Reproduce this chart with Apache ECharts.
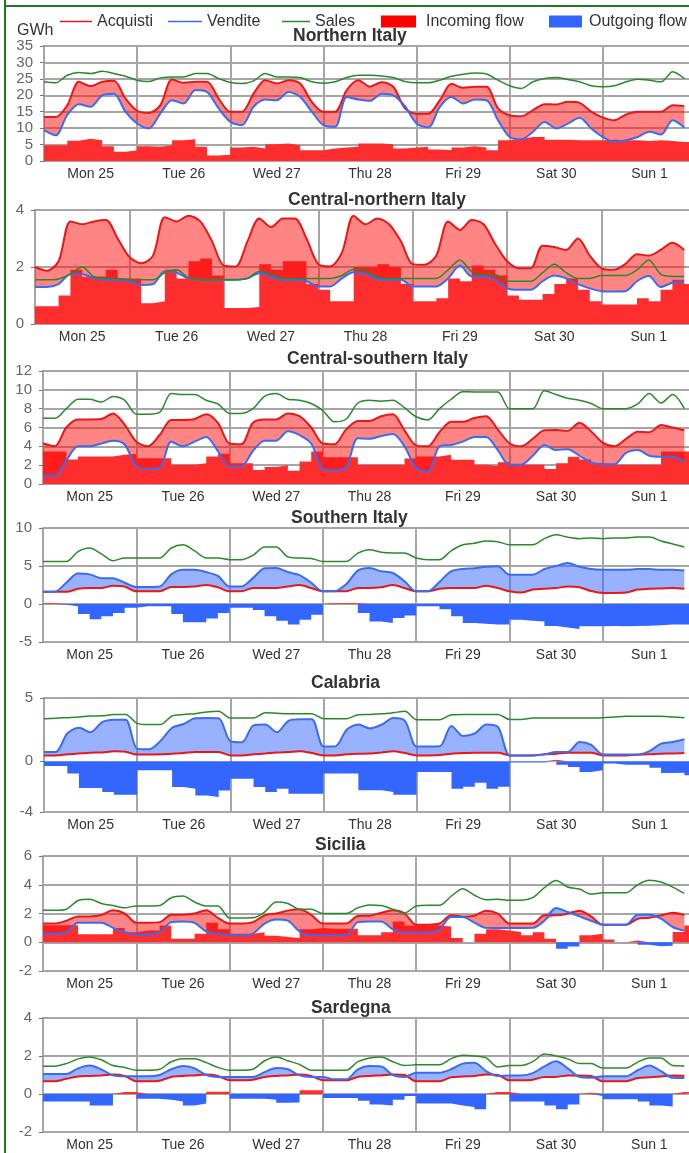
<!DOCTYPE html>
<html><head><meta charset="utf-8">
<script src="https://cdn.jsdelivr.net/npm/echarts@6/dist/echarts.min.js"></script>
<style>html,body{margin:0;padding:0;background:#fff}#c{width:689px;height:1153px}</style>
</head><body><div id="c"></div>
<script>
// ---------- data (3-hourly readings, GWh) ----------
const dayLabels = ['Mon 25','Tue 26','Wed 27','Thu 28','Fri 29','Sat 30','Sun 1'];
// hour-of-week categories (the last one, 168, closes the week)
const hours = [0,3,6,9,12,15,18,21, 24,27,30,33,36,39,42,45, 48,51,54,57,60,63,66,69, 72,75,78,81,84,87,90,93,
  96,99,102,105,108,111,114,117, 120,123,126,129,132,135,138,141, 144,147,150,153,156,159,162,165, 168];

const N_acq = [13.4,13.4,17,24.1,22.8,24.1,24.4,19, 15.3,14.6,17,24.8,23.8,24.1,24.1,19, 15,15,20.5,24.6,23.6,24.6,23.6,18, 15,15,21.6,24.6,22.6,24,22.6,16, 14.4,14.4,18.5,23.5,22.3,22.6,22.6,16, 13.9,13.6,15.5,17.3,17.2,18,17.7,15, 13.2,12.4,14.2,15,15,15,17,16.7];
const N_ven = [9.4,7.8,14,17.3,16.5,20,20.5,15, 11.4,9.9,14.5,18.5,17.5,21.6,21,16, 11.9,10.9,16.5,18.7,18.5,21,19.5,15, 10.9,10.4,19.5,18.7,18.3,20.5,20,16.7, 11.4,10.2,16.5,19.5,17.5,18.7,18.5,12.4, 7.3,6.6,8.9,11.9,9.9,11.4,13.2,9.9, 7.3,5.8,6.3,7.3,8.9,8.1,12.4,10.2];
const N_sal = [24.1,23.8,26.1,26.9,26.6,27.3,26.6,25.8, 24.6,24.2,25.3,25.6,25.6,26.6,26.6,25.1, 23.9,23.6,24.4,26.6,25.6,25.6,25.4,24.1, 23.7,24.1,25.4,26.1,26.1,25.9,25.4,24.2, 23.8,23.8,24.6,25.8,26.4,26.8,26.5,24.6, 22.9,22.1,24.1,25.1,25.4,24.8,24.1,22.9, 22.6,22.9,24.1,24.9,24.6,24.1,27.2,25.1];
const N_flow = [4.8,4.8,6.2,6.8,6.3,4.5,2.8,3.3, 4.5,4.3,4.8,6.3,6.6,4.3,1.7,1.9, 4.1,4.3,3.8,5.1,5.3,4.8,3.3,3.3, 3.8,4.1,4.3,5.3,5.3,5.1,3.8,4.1, 4.3,3.5,3.3,4.1,4.5,4.1,3.3,6.3, 6.8,7.3,7.3,6.5,6.5,6.3,6.3,6.3, 6.5,6.3,6.3,6.1,6.3,6.1,5.8,5.8];

const CN_acq = [2.0,1.87,2.2,3.6,3.5,3.6,3.65,3.0, 2.35,2.13,2.4,3.75,3.6,3.8,3.6,2.9, 2.05,2.02,2.9,3.7,3.4,3.7,3.7,3.0, 2.1,2.02,2.5,3.8,3.5,3.7,3.5,2.9, 2.1,2.08,2.4,3.6,3.3,3.65,3.5,2.8, 2.2,1.96,1.96,2.75,2.7,2.6,3.0,2.4, 1.95,1.9,2.1,2.45,2.4,2.6,2.85,2.6];
const CN_ven = [1.3,1.3,1.4,1.75,1.75,1.6,1.55,1.55, 1.5,1.37,1.4,1.85,1.8,1.6,1.55,1.55, 1.55,1.55,1.6,1.78,1.65,1.55,1.55,1.5, 1.32,1.32,1.6,1.82,1.75,1.58,1.55,1.55, 1.32,1.32,1.32,1.6,2.05,1.67,1.67,1.55, 1.25,1.2,1.2,1.5,1.7,1.6,1.4,1.25, 1.15,1.14,1.15,1.5,1.68,1.3,1.45,1.5];
const CN_sal = [1.55,1.55,1.58,1.75,2.0,1.65,1.6,1.6, 1.55,1.55,1.55,1.8,1.9,1.62,1.55,1.55, 1.55,1.55,1.6,1.84,1.75,1.6,1.6,1.6, 1.6,1.6,1.7,1.92,1.85,1.65,1.6,1.6, 1.6,1.6,1.6,1.9,2.25,1.84,1.73,1.73, 1.5,1.5,1.5,1.8,2.1,1.8,1.6,1.6, 1.7,1.7,1.7,1.9,2.25,1.75,1.67,1.67];
const CN_flow = [0.62,0.62,1.0,1.9,1.67,1.67,1.9,1.6, 1.6,0.73,0.8,1.9,1.6,2.2,2.3,1.7, 0.56,0.56,0.6,2.1,1.9,2.2,2.2,1.4, 1.2,0.8,0.8,2.0,2.0,2.1,2.0,1.4, 0.8,0.8,0.9,1.6,1.5,2.05,1.9,1.7, 1.0,0.85,0.85,1.05,1.4,1.6,1.2,0.8, 0.68,0.68,0.68,0.9,0.8,1.2,1.55,1.4];

const CS_acq = [4.33,4.0,6.0,6.86,6.86,6.9,7.5,6.3, 4.5,4.0,5.2,6.8,6.8,6.9,7.42,6.5, 4.3,4.22,6.5,6.86,6.86,7.5,7.2,6.0, 4.3,4.22,5.8,6.7,6.7,7.2,7.4,5.7, 4.1,4.0,5.5,6.6,6.6,7.0,7.2,5.8, 4.33,4.0,4.8,5.7,5.73,5.65,6.5,5.6, 4.4,4.0,4.8,5.56,5.5,6.26,6.0,5.7];
const CS_ven = [0.88,0.88,2.5,4.0,4.0,4.3,4.6,4.2, 1.9,1.62,1.7,4.5,4.0,4.5,5.0,3.5, 1.86,1.86,3.5,4.6,4.6,5.6,5.2,4.3, 1.6,1.44,1.8,4.86,4.8,5.1,5.3,4.0, 1.7,1.3,4.0,4.15,4.5,5.0,5.0,3.6, 2.04,2.04,3.0,4.15,3.6,3.7,3.0,2.3, 2.1,2.1,3.3,3.6,3.0,2.9,2.9,2.3];
const CS_sal = [6.97,6.97,8.0,9.0,9.0,8.7,9.3,8.9, 7.42,7.42,7.6,9.6,9.5,9.5,8.9,8.5, 7.5,7.5,8.0,9.3,9.6,9.0,8.9,8.55, 7.8,6.6,6.9,8.6,8.9,8.8,8.9,8.1, 7.14,6.8,8.0,9.0,9.8,9.78,9.78,9.78, 8.0,8.0,8.0,9.9,9.5,9.1,8.9,8.55, 8.0,8.0,8.0,8.5,9.6,8.6,9.5,8.0];
const CS_flow = [3.45,3.45,2.6,2.92,2.92,2.92,3.1,3.2, 2.74,2.74,2.74,2.04,2.04,2.2,2.92,3.2, 2.2,2.2,1.5,1.8,2.0,1.4,2.4,3.45, 2.85,2.85,2.85,2.04,2.04,2.04,2.04,2.7, 2.92,2.92,3.1,2.57,2.57,2.04,1.9,2.3, 2.04,2.04,2.04,1.6,2.2,2.9,2.6,2.2, 2.04,2.04,2.04,2.04,2.04,3.45,3.45,3.45];

const S_acq = [1.6,1.6,1.6,2.0,2.1,2.1,2.4,2.3, 1.67,1.67,1.67,2.25,2.25,2.3,2.5,2.2, 1.67,1.67,2.1,2.1,2.1,2.3,2.5,2.1, 1.67,1.67,1.67,2.1,2.1,2.2,2.5,2.1, 1.67,1.67,2.0,2.1,2.1,2.1,2.4,2.1, 1.67,1.5,1.9,2.0,2.1,2.3,2.2,1.7, 1.45,1.45,1.5,1.9,2.0,2.05,2.1,2.0];
const S_ven = [1.6,1.6,2.8,4.0,3.9,3.4,3.4,2.8, 2.24,2.24,2.3,3.9,4.5,4.5,4.2,3.7, 2.3,2.3,3.4,4.7,4.74,4.2,3.8,2.8, 1.67,1.67,2.6,4.4,4.74,4.3,4.08,3.0, 1.67,1.67,2.9,4.3,4.6,4.7,4.9,4.96, 3.86,3.86,3.86,4.6,5.0,5.4,4.9,4.6, 4.5,4.5,4.5,4.6,4.6,4.5,4.5,4.4];
const S_sal = [5.6,5.6,5.6,6.9,7.37,6.6,5.7,6.05, 6.05,6.05,6.05,7.37,7.8,7.0,6.05,6.05, 5.83,5.83,6.4,7.5,7.5,6.2,6.05,6.0, 5.6,5.6,5.6,6.7,7.15,6.8,6.7,6.7, 6.05,5.83,5.83,7.0,7.8,8.0,8.3,8.2, 7.8,7.8,7.8,8.6,9.1,8.8,8.6,8.7, 8.6,8.7,8.7,8.8,8.8,8.3,7.9,7.5];
const S_flow = [0.1,-0.1,-0.3,-1.3,-2.0,-1.6,-1.2,-0.5, -0.3,-0.3,-0.3,-1.3,-2.4,-2.4,-1.9,-1.2, -0.5,-0.5,-0.8,-1.6,-2.2,-2.7,-2.06,-1.4, 0.1,0.1,0.1,-1.2,-2.3,-2.5,-1.84,-1.5, -0.3,-0.3,-0.7,-1.6,-2.5,-2.6,-2.7,-2.7, -2.06,-2.2,-2.3,-2.9,-3.1,-3.3,-2.94,-2.94, -2.9,-2.94,-2.9,-2.85,-2.8,-2.7,-2.7,-2.7];

const Cal_acq = [0.47,0.47,0.55,0.62,0.68,0.7,0.79,0.75, 0.53,0.53,0.55,0.6,0.65,0.74,0.74,0.74, 0.47,0.47,0.55,0.62,0.7,0.74,0.79,0.65, 0.47,0.47,0.55,0.6,0.62,0.7,0.79,0.65, 0.47,0.47,0.5,0.6,0.65,0.68,0.68,0.68, 0.47,0.47,0.47,0.55,0.6,0.68,0.68,0.68, 0.47,0.47,0.47,0.52,0.55,0.6,0.62,0.66];
const Cal_ven = [0.74,0.74,2.2,2.65,2.3,3.1,3.29,3.29, 1.0,0.95,1.6,2.65,2.95,3.4,3.42,3.4, 1.6,1.5,2.84,2.9,2.3,3.2,3.32,3.32, 1.18,1.18,2.5,2.9,2.6,2.9,3.42,3.2, 1.18,1.18,1.2,2.79,2.0,2.2,2.9,2.7, 0.47,0.47,0.47,0.55,0.74,0.74,1.53,1.3, 0.53,0.53,0.53,0.53,0.8,1.4,1.53,1.75];
const Cal_sal = [3.37,3.4,3.45,3.5,3.58,3.6,3.7,3.7, 3.0,2.9,2.9,3.58,3.7,3.76,3.9,3.95, 3.42,3.42,3.42,3.84,3.8,3.76,3.76,3.76, 3.37,3.37,3.37,3.68,3.7,3.75,3.84,3.95, 3.29,3.29,3.29,3.68,3.7,3.7,3.7,3.7, 3.3,3.3,3.42,3.42,3.42,3.42,3.42,3.42, 3.45,3.5,3.55,3.55,3.55,3.55,3.5,3.45];
const Cal_flow = [-0.37,-0.37,-0.97,-2.1,-2.1,-2.42,-2.63,-2.63, -0.71,-0.71,-0.71,-2.03,-2.16,-2.7,-2.82,-2.3, -1.37,-1.37,-2.03,-2.42,-2.16,-2.55,-2.55,-2.55, -0.97,-0.97,-0.97,-2.29,-2.29,-2.42,-2.63,-2.63, -0.84,-0.84,-0.84,-2.16,-2.0,-1.7,-2.16,-2.0, -0.1,-0.1,-0.1,0.12,-0.26,-0.45,-0.84,-0.71, -0.18,-0.26,-0.26,-0.26,-0.5,-0.92,-0.9,-1.1];

const Sic_acq = [1.3,1.3,1.5,1.8,1.8,1.9,2.22,2.0, 1.36,1.36,1.4,1.92,1.92,2.0,2.22,1.7, 1.3,1.3,1.4,1.87,2.0,2.2,2.29,1.9, 1.3,1.3,1.3,1.82,1.85,2.05,2.22,2.0, 1.22,1.22,1.3,1.87,1.8,1.85,2.2,2.0, 1.3,1.3,1.3,1.87,1.87,2.0,2.2,1.8, 1.22,1.22,1.22,1.64,1.7,1.87,2.05,1.9];
const Sic_ven = [0.6,0.6,0.7,1.36,1.36,1.36,1.0,0.71, 0.53,0.53,0.7,1.4,1.45,1.35,0.75,0.6, 0.48,0.48,0.6,1.3,1.59,1.5,0.75,0.48, 0.48,0.48,0.48,1.4,1.45,1.45,0.9,0.67, 0.67,0.67,0.9,1.75,1.75,1.36,1.0,0.99, 0.99,0.99,1.0,1.5,2.38,2.1,1.8,1.5, 1.22,1.22,1.22,1.92,1.92,1.64,1.06,0.8];
const Sic_sal = [2.22,2.22,2.3,2.9,3.0,2.7,2.55,2.4, 2.52,2.52,2.55,3.1,3.22,2.8,2.52,2.52, 1.69,1.69,1.7,2.1,2.8,2.7,2.29,2.29, 2.0,2.0,2.0,2.4,2.6,2.55,2.29,2.03, 2.52,2.57,2.57,3.2,3.73,3.27,2.95,3.0, 2.92,2.92,3.1,3.8,4.3,3.84,3.7,3.35, 3.45,3.45,3.45,4.0,4.31,4.19,3.84,3.4];
const Sic_flow = [1.18,1.18,1.18,0.55,0.55,0.55,1.0,0.7, 0.82,0.82,1.17,0.25,0.25,0.6,1.36,0.9, 0.6,0.6,0.7,0.45,0.37,0.3,0.9,1.0, 0.94,0.94,0.94,0.48,0.48,0.7,1.45,1.17, 1.17,1.17,1.1,0.3,0.0,0.6,0.9,0.82, 0.71,0.48,0.7,0.25,-0.45,-0.3,0.48,0.6, 0.2,0.0,0.13,-0.17,-0.28,-0.25,0.71,1.17];

const Sar_acq = [0.67,0.67,0.8,0.92,0.95,0.98,1.02,0.95, 0.67,0.67,0.7,0.9,0.95,0.98,1.02,0.95, 0.72,0.72,0.75,0.9,0.95,0.98,1.02,0.95, 0.72,0.72,0.72,0.9,0.95,0.98,1.02,1.0, 0.67,0.67,0.67,0.88,0.92,0.95,1.02,1.0, 0.72,0.72,0.75,0.9,0.9,0.98,0.98,0.95, 0.67,0.67,0.67,0.84,0.88,0.92,0.98,0.96];
const Sar_ven = [1.05,1.05,1.05,1.35,1.5,1.3,0.98,0.93, 0.93,0.93,1.0,1.3,1.47,1.35,1.0,0.9, 0.9,0.9,0.9,1.15,1.37,1.3,0.98,0.9, 0.9,0.77,0.77,1.3,1.47,1.45,1.0,0.9, 1.12,1.12,1.12,1.3,1.6,1.65,1.2,0.95, 0.98,0.98,1.1,1.45,1.72,1.35,0.9,0.85, 0.93,0.93,0.93,1.25,1.5,1.2,0.85,0.84];
const Sar_sal = [1.46,1.46,1.6,1.85,1.95,1.8,1.5,1.4, 1.25,1.25,1.3,1.7,1.86,1.85,1.65,1.4, 1.25,1.25,1.3,1.75,1.95,1.75,1.55,1.25, 1.25,1.25,1.25,1.7,1.9,1.95,1.7,1.5, 1.54,1.54,1.54,1.86,2.04,2.0,1.9,1.42, 1.5,1.5,1.7,2.1,2.0,1.85,1.6,1.6, 1.37,1.37,1.37,1.68,1.9,1.9,1.5,1.48];
const Sar_flow = [-0.39,-0.39,-0.4,-0.4,-0.6,-0.6,0.1,0.1, -0.25,-0.25,-0.3,-0.4,-0.6,-0.5,0.12,0.12, -0.25,-0.25,-0.25,-0.3,-0.46,-0.45,0.2,0.2, -0.21,-0.21,-0.21,-0.35,-0.55,-0.6,-0.3,-0.1, -0.5,-0.5,-0.5,-0.6,-0.68,-0.8,0.1,0.1, -0.39,-0.39,-0.4,-0.6,-0.8,-0.55,0.07,-0.1, -0.28,-0.28,-0.28,-0.4,-0.6,-0.66,0.1,0.1];

const panels = [
  {name:'Northern Italy',         acq:N_acq,   ven:N_ven,   sal:N_sal,   flow:N_flow,   min:0,  max:35, interval:5},
  {name:'Central-northern Italy', acq:CN_acq,  ven:CN_ven,  sal:CN_sal,  flow:CN_flow,  min:0,  max:4,  interval:2},
  {name:'Central-southern Italy', acq:CS_acq,  ven:CS_ven,  sal:CS_sal,  flow:CS_flow,  min:0,  max:12, interval:2},
  {name:'Southern Italy',         acq:S_acq,   ven:S_ven,   sal:S_sal,   flow:S_flow,   min:-5, max:10, interval:5},
  {name:'Calabria',               acq:Cal_acq, ven:Cal_ven, sal:Cal_sal, flow:Cal_flow, min:-4, max:5,  interval:1, ticks:[-4,0,5]},
  {name:'Sicilia',                acq:Sic_acq, ven:Sic_ven, sal:Sic_sal, flow:Sic_flow, min:-2, max:6,  interval:2},
  {name:'Sardegna',               acq:Sar_acq, ven:Sar_ven, sal:Sar_sal, flow:Sar_flow, min:-2, max:4,  interval:2}
];

// ---------- layout ----------
const layout = [
  {top:46,  height:115, left:44, tLeft:293, tTop:26},
  {top:210, height:114, left:35, tLeft:288, tTop:190},
  {top:371, height:113, left:43, tLeft:287, tTop:349},
  {top:528, height:114, left:43, tLeft:291, tTop:508},
  {top:698, height:114, left:44, tLeft:311, tTop:673},
  {top:856, height:115, left:43, tLeft:315, tTop:835},
  {top:1018,height:114, left:43, tLeft:311, tTop:998}
];
const GRID = '#a6a6a6';
const C_ACQ = '#e81818', C_VEN = '#3a6cf0', C_SAL = '#2a8a2a';
const C_IN = '#ff2e2e', C_OUT = '#3366ff';
const BAND_IN = 'rgba(255,10,10,0.5)', BAND_OUT = 'rgba(51,102,255,0.5)';
const FONT = '"Liberation Sans", Arial, sans-serif';
const SMOOTH = 0.3;

const option = {animation:false, textStyle:{fontFamily:FONT},
  title:[], grid:[], xAxis:[], yAxis:[], series:[]};

panels.forEach((p,i)=>{
  const L = layout[i];
  option.title.push({text:p.name, left:L.tLeft, top:L.tTop, padding:0,
    textStyle:{fontSize:17.5, fontWeight:'bold', color:'#333', lineHeight:20, fontFamily:FONT}});
  option.grid.push({left:L.left, right:-7, top:L.top, height:L.height, show:true,
    borderColor:GRID, borderWidth:2, outerBoundsMode:'none', containLabel:false});
  // data axis: hour-of-week categories, split line at every day boundary (every 8th category)
  option.xAxis.push({gridIndex:i, type:'category', data:hours, boundaryGap:false,
    axisLabel:{show:false}, axisTick:{show:false}, axisLine:{show:false},
    splitLine:{show:true, interval:7, lineStyle:{color:GRID, width:2}}});
  // label axis: one band per day
  option.xAxis.push({gridIndex:i, type:'category', data:dayLabels, position:'bottom',
    axisLine:{show:false}, axisTick:{show:false}, splitLine:{show:false},
    axisLabel:{fontSize:14, color:'#333', margin:6, fontFamily:FONT}});
  const yA = {gridIndex:i, type:'value', min:p.min, max:p.max, interval:p.interval,
    axisLine:{show:false}, axisTick:{show:true, length:4, lineStyle:{color:'#777', width:1}},
    axisLabel:{fontSize:15, color:'#666', margin:11, fontFamily:FONT},
    splitLine:{show:true, lineStyle:{color:GRID, width:2}}};
  if (p.ticks) { yA.axisLabel.customValues = p.ticks; yA.axisTick.customValues = p.ticks; yA.splitLine.show = false; }
  option.yAxis.push(yA);

  const xa = 2*i, ya = i, st = 'band'+i;
  const base = p.acq.map((a,k)=>Math.min(a, p.ven[k]));
  const up   = p.acq.map((a,k)=>Math.max(a - p.ven[k], 0));
  const dn   = p.acq.map((a,k)=>Math.max(p.ven[k] - a, 0));
  const inc  = p.flow.map(v=>v>0?v:0);
  const out  = p.flow.map(v=>v<0?v:0);
  inc.push(inc[inc.length-1]); out.push(out[out.length-1]);   // close last step at hour 168
  const common = {type:'line', xAxisIndex:xa, yAxisIndex:ya, symbol:'none', showSymbol:false, silent:true};

  option.series.push(Object.assign({}, common, {name:'Incoming flow', data:inc, step:'end', z:1,
    itemStyle:{color:'#ff0000'}, lineStyle:{width:0}, areaStyle:{color:C_IN, opacity:1}}));
  option.series.push(Object.assign({}, common, {name:'Outgoing flow', data:out, step:'end', z:1,
    itemStyle:{color:C_OUT}, lineStyle:{width:0}, areaStyle:{color:C_OUT, opacity:1}}));
  option.series.push(Object.assign({}, common, {name:'_base'+i, data:base, stack:st, z:2, smooth:SMOOTH,
    lineStyle:{width:0, opacity:0}, areaStyle:{opacity:0}}));
  option.series.push(Object.assign({}, common, {name:'_up'+i, data:up, stack:st, z:2, smooth:SMOOTH,
    lineStyle:{width:0, opacity:0}, areaStyle:{color:BAND_IN, opacity:1}}));
  option.series.push(Object.assign({}, common, {name:'_dn'+i, data:dn, stack:st, z:2, smooth:SMOOTH,
    lineStyle:{width:0, opacity:0}, areaStyle:{color:BAND_OUT, opacity:1}}));
  option.series.push(Object.assign({}, common, {name:'Acquisti', data:p.acq, z:3, smooth:SMOOTH,
    itemStyle:{color:C_ACQ}, lineStyle:{color:C_ACQ, width:2}}));
  option.series.push(Object.assign({}, common, {name:'Vendite', data:p.ven, z:3, smooth:SMOOTH,
    itemStyle:{color:C_VEN}, lineStyle:{color:C_VEN, width:2}}));
  option.series.push(Object.assign({}, common, {name:'Sales', data:p.sal, z:4, smooth:SMOOTH,
    itemStyle:{color:C_SAL}, lineStyle:{color:C_SAL, width:1.5}}));
});

const lg = (name, left, w, h, color, pad) => ({
  data:[{name, itemStyle:{color}}], left, top:12.5, padding:0, selectedMode:false,
  icon:'rect', itemWidth:w, itemHeight:h,
  textStyle:{fontSize:16, color:'#333', lineHeight:18, fontFamily:FONT, padding:[0,0,0,pad]}
});
option.legend = [
  lg('Acquisti', 60, 32, 1.5, C_ACQ, 0),
  lg('Vendite', 168, 34, 1.5, C_VEN, 0),
  lg('Sales', 282, 28, 1.5, C_SAL, 0),
  lg('Incoming flow', 381, 35, 12, '#ff0000', 5),
  lg('Outgoing flow', 549, 33, 12, C_OUT, 2)
];
option.graphic = [
  {type:'line', shape:{x1:5, y1:0, x2:5, y2:1153}, style:{stroke:'#1f7a1f', lineWidth:2}},
  {type:'line', shape:{x1:5, y1:6, x2:689, y2:6}, style:{stroke:'#1f7a1f', lineWidth:2}},
  {type:'text', left:17, top:23, style:{text:'GWh', fontSize:16, fill:'#333', fontFamily:FONT}}
];

const chart = echarts.init(document.getElementById('c'), null, {renderer:'canvas'});
chart.setOption(option);
</script></body></html>
